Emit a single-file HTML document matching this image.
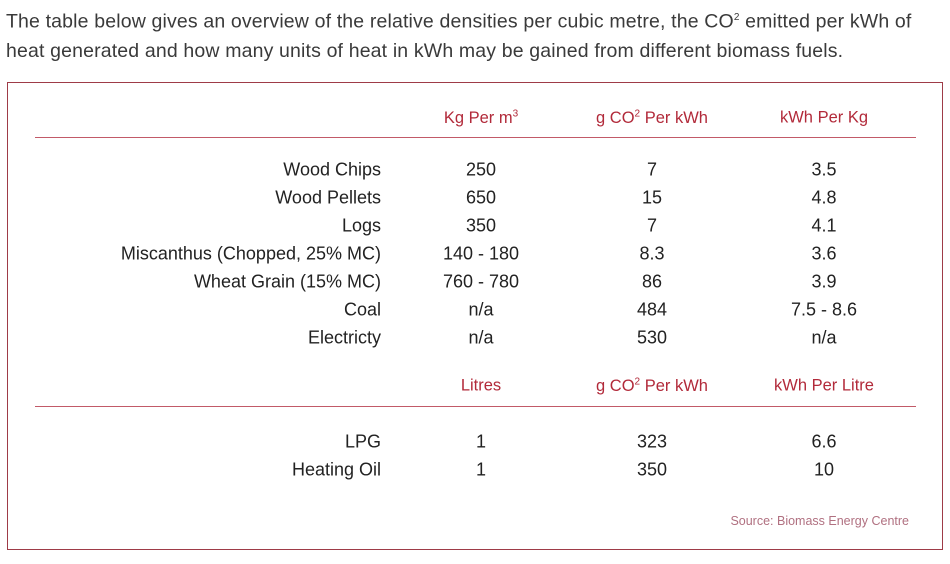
<!DOCTYPE html>
<html><head><meta charset="utf-8"><style>
body{margin:0;width:950px;height:564px;background:#fff;font-family:"Liberation Sans",sans-serif;position:relative;overflow:hidden}
.intro{position:absolute;left:6px;top:3px;font-size:19.5px;line-height:29px;color:#3a3a3a;letter-spacing:0.15px;white-space:nowrap}
.box{position:absolute;left:7px;top:82px;width:936px;height:468px;border:1.5px solid #9e3b47;box-sizing:border-box}
.hr{position:absolute;left:35px;width:881px;height:1px;background:#c25a68}
.t{position:absolute;font-size:18px;color:#222;white-space:nowrap;transform:translateY(-50%)}
.c{transform:translate(-50%,-50%)}
.r{transform:translate(-100%,-50%)}
.h{color:#b22a3a;font-size:16.5px}
.src{position:absolute;right:41px;top:514px;font-size:12.5px;color:#b07080}
sup{font-size:10px}
</style></head><body>
<div class="intro">The table below gives an overview of the relative densities per cubic metre, the CO<sup>2</sup> emitted per kWh of<br>heat generated and how many units of heat in kWh may be gained from different biomass fuels.</div>
<div class="box"></div>
<div class="hr" style="top:137px"></div>
<div class="hr" style="top:406px"></div>
<div id="tbl"></div>
<div class="src">Source: Biomass Energy Centre</div>
<script>
const colX=[481,652,824];
const header1=["Kg Per m<sup>3</sup>","g CO<sup>2</sup> Per kWh","kWh Per Kg"];
const header2=["Litres","g CO<sup>2</sup> Per kWh","kWh Per Litre"];
const solidFuels=["Wood Chips","Wood Pellets","Logs","Miscanthus (Chopped, 25% MC)","Wheat Grain (15% MC)","Coal","Electricty"];
const solidDensity=["250","650","350","140 - 180","760 - 780","n/a","n/a"];
const solidCO2=["7","15","7","8.3","86","484","530"];
const solidKwh=["3.5","4.8","4.1","3.6","3.9","7.5 - 8.6","n/a"];
const liquidFuels=["LPG","Heating Oil"];
const liquidLitres=["1","1"];
const liquidCO2=["323","350"];
const liquidKwh=["6.6","10"];
const tbl=document.getElementById('tbl');
function cell(x,y,html,cls,name){const d=document.createElement('div');d.className='t '+cls;d.style.left=x+'px';d.style.top=y+'px';d.innerHTML=html;


tbl.appendChild(d);}
header1.forEach((h,i)=>cell(colX[i],118,h,'c h','column-header'));
header2.forEach((h,i)=>cell(colX[i],386,h,'c h','column-header'));
solidFuels.forEach((f,i)=>{const y=170+i*28;cell(381,y,f,'r','fuel-label');cell(colX[0],y,solidDensity[i],'c','density-value');cell(colX[1],y,solidCO2[i],'c','co2-value');cell(colX[2],y,solidKwh[i],'c','kwh-value');});
liquidFuels.forEach((f,i)=>{const y=442+i*28;cell(381,y,f,'r','fuel-label');cell(colX[0],y,liquidLitres[i],'c','litres-value');cell(colX[1],y,liquidCO2[i],'c','co2-value');cell(colX[2],y,liquidKwh[i],'c','kwh-value');});
</script>
</body></html>
